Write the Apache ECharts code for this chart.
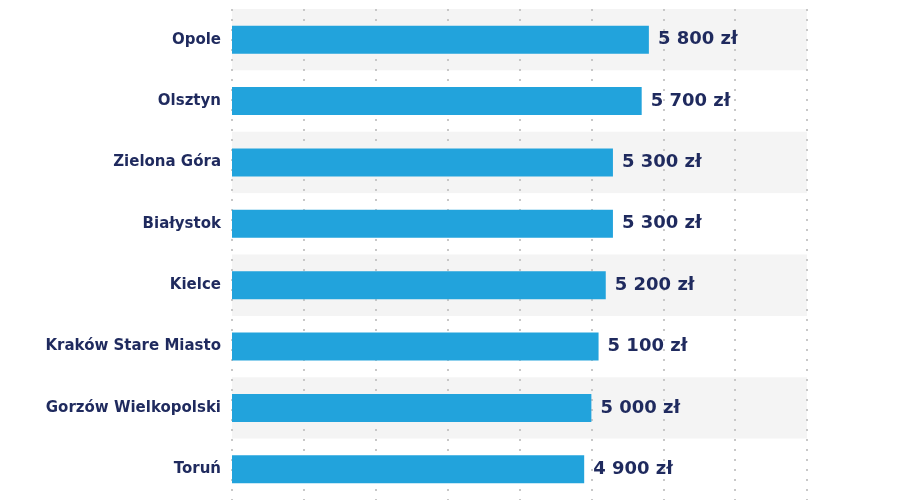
<!DOCTYPE html>
<html><head><meta charset="utf-8">
<script src="https://cdn.jsdelivr.net/npm/echarts@6/dist/echarts.min.js"></script>
<style>html,body{margin:0;background:#fff}#main{width:900px;height:500px}</style>
</head><body><div id="main"></div>
<script>
var cities = ['Opole', 'Olsztyn', 'Zielona Góra', 'Białystok', 'Kielce', 'Kraków Stare Miasto', 'Gorzów Wielkopolski', 'Toruń'];
var salaries = [5800, 5700, 5300, 5300, 5200, 5100, 5000, 4900];

function fmt(v) {
    return String(v).replace(/\B(?=(\d{3})+(?!\d))/g, ' ') + ' zł';
}

var myChart = echarts.init(document.getElementById('main'));
var option = {
    animation: false,
    grid: { left: 232, right: 93, top: 9, height: 501, containLabel: false },
    xAxis: {
        type: 'value', min: 0, max: 8000, interval: 1000,
        axisLabel: { show: false }, axisLine: { show: false }, axisTick: { show: false },
        splitLine: { show: true, lineStyle: { color: '#c8c8c8', width: 2, type: [2, 8] } }
    },
    yAxis: {
        type: 'category', data: cities, inverse: true,
        axisLine: { show: false }, axisTick: { show: false },
        axisLabel: { color: '#1f2a5e', fontSize: 15, fontWeight: 'bold', fontFamily: 'DejaVu Sans', margin: 11 },
        splitArea: { show: true, areaStyle: { color: ['#f4f4f4', '#ffffff'] } }
    },
    series: [{
        type: 'bar', data: salaries, barWidth: 28,
        itemStyle: { color: '#22a3dc' },
        label: {
            show: true, position: 'right', distance: 9,
            color: '#1f2a5e', fontSize: 18, fontWeight: 'bold', fontFamily: 'DejaVu Sans',
            formatter: function (p) { return fmt(p.value); }
        }
    }]
};
myChart.setOption(option);
</script></body></html>
